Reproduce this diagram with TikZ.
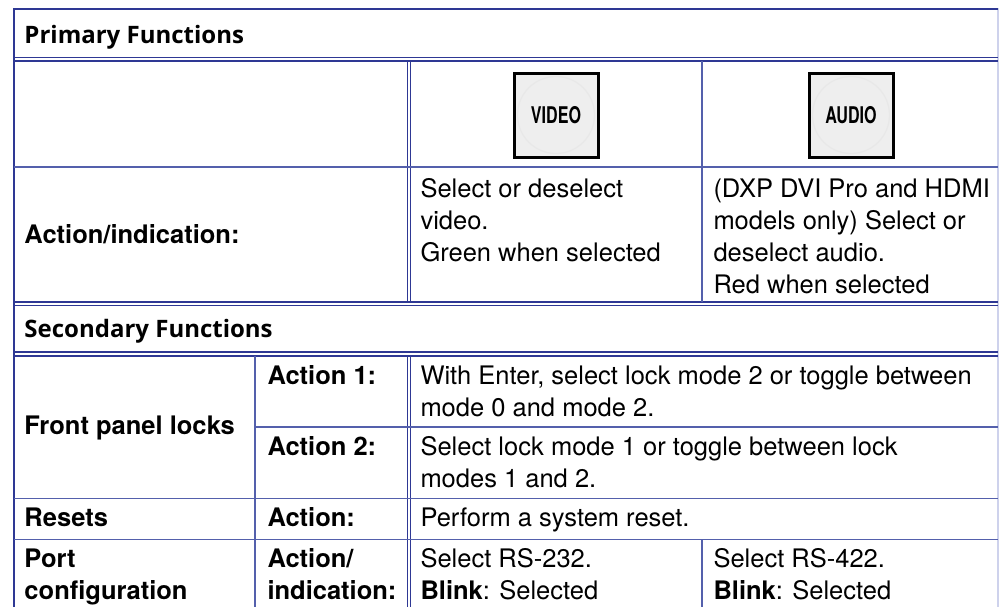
\documentclass[tikz,border=0pt]{standalone}
\usepackage{fontspec}
\setmainfont{TeX Gyre Heros}
\newfontfamily\hdrfont{Open Sans}
\usepackage{graphicx}
\definecolor{rule}{RGB}{84,96,172}
\definecolor{ruledark}{RGB}{46,56,148}
\definecolor{ruleedge}{RGB}{206,210,236}
\definecolor{keyface}{RGB}{238,238,238}

\begin{document}
\begin{tikzpicture}[x=0.4pt, y=-0.4pt,
    cell/.style={anchor=base west, inner sep=0pt, align=left,
      font=\fontsize{10.2}{12.8}\selectfont},
    label/.style={cell, font=\fontsize{10.2}{12.8}\selectfont\bfseries},
    head/.style={cell, font=\hdrfont\fontsize{9.6}{12}\selectfont\bfseries},
    key/.style={draw=black, line width=1.2pt, fill=keyface, minimum size=33.6pt,
      inner sep=0pt, font=\fontsize{9.2}{11}\selectfont\bfseries,
      path picture={\draw[black!9, line width=0.5pt]
        (path picture bounding box.center) circle[radius=15.4pt];}},
    thin/.style={rule, line width=0.45pt},
    twin/.style={ruledark, line width=0.55pt}]
  \useasboundingbox (0,0) rectangle (1000,607);

  % outer frame
  \draw[ruleedge, line width=0.45pt] (998,8) -- (998,607);
  \draw[ruledark, line width=0.9pt] (14,9) -- (998,9);
  \draw[ruledark, line width=0.9pt] (14,8) -- (14,607);

  % double rules
  \foreach \y in {57.5,61,302,305.5,352,356}
    \draw[twin] (14,\y) -- (998,\y);
  \foreach \x in {407.5,410.5} {
    \draw[twin] (\x,61) -- (\x,302);
    \draw[twin] (\x,356) -- (\x,607);
  }

  % single rules
  \draw[thin] (14,167) -- (998,167);
  \draw[thin] (255,427) -- (998,427);
  \draw[thin] (14,498.5) -- (998,498.5);
  \draw[thin] (14,539.5) -- (998,539.5);
  \draw[thin] (702,61) -- (702,302);
  \draw[thin] (702,539.5) -- (702,607);
  \draw[thin] (255,356) -- (255,607);

  % primary functions (multi-line cells sit on their last baseline)
  \node[head] (prim) at (24,43) {Primary Functions};
  \node[key] (video) at (556,115) {\scalebox{0.7}[1]{VIDEO}};
  \node[key] (audio) at (851,115) {\scalebox{0.7}[1]{AUDIO}};
  \node[label] (actind) at (24,243) {Action/indication:};
  \node[cell] (vidtxt) at (420,261) {Select or deselect\\video.\\Green when selected};
  \node[cell] (audtxt) at (713,293)
    {(DXP DVI Pro and HDMI\\models only) Select or\\deselect audio.\\Red when selected};

  % secondary functions
  \node[head] (sec) at (24,337) {Secondary Functions};
  \node[label] (locks) at (24,434) {Front panel locks};
  \node[label] (act1) at (267,384) {Action 1:};
  \node[cell] (act1txt) at (420,416)
    {With Enter, select lock mode 2 or toggle between\\mode 0 and mode 2.};
  \node[label] (act2) at (267,455) {Action 2:};
  \node[cell] (act2txt) at (420,487)
    {Select lock mode 1 or toggle between lock\\modes 1 and 2.};
  \node[label] (resets) at (24,526) {Resets};
  \node[label] (rstact) at (267,526) {Action:};
  \node[cell] (rsttxt) at (420,526) {Perform a system reset.};
  \node[label] (port) at (24,599) {Port\\configuration};
  \node[label] (portact) at (267,599) {Action/\\indication:};
  \node[cell] (rs232) at (420,599) {Select RS-232.\\\textbf{Blink}: Selected};
  \node[cell] (rs422) at (713,599) {Select RS-422.\\\textbf{Blink}: Selected};
\end{tikzpicture}
\end{document}
